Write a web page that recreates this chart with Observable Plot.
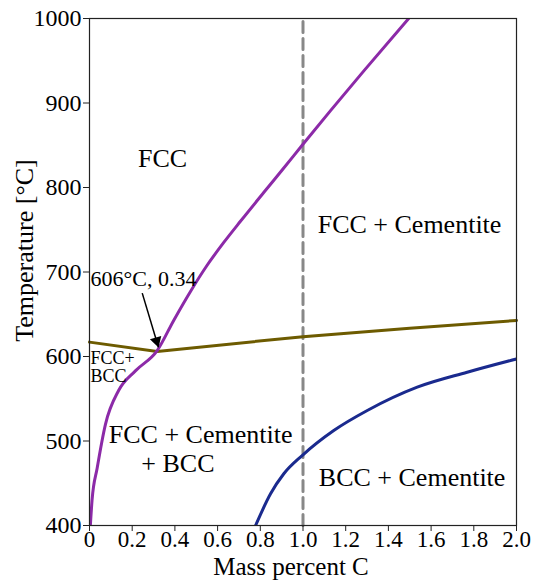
<!DOCTYPE html>
<html>
<head>
<meta charset="utf-8">
<script src="https://cdn.jsdelivr.net/npm/d3@7"></script>
<script src="https://cdn.jsdelivr.net/npm/@observablehq/plot@0.6"></script>
<style>
  html, body { margin: 0; padding: 0; background: white; }
</style>
</head>
<body>
<div id="chart"></div>
<script>
// FCC boundary (purple)
const fccX = [0.004, 0.012, 0.036, 0.075, 0.137, 0.215, 0.317, 0.395, 0.473, 0.551, 0.629, 0.707, 0.816, 0.910, 0.996, 1.129, 1.285, 1.495];
const fccT = [400, 430, 468, 520, 560, 583, 607, 643, 677, 708, 735, 760, 794, 823, 850, 891, 938, 1000];
// Eutectoid line (olive)
const eutX = [0, 0.317, 1.0, 1.5, 2.0];
const eutT = [617, 606, 623.5, 633.5, 642.6];
// BCC + Cementite boundary (blue)
const bccX = [0.778, 0.848, 0.910, 0.996, 1.144, 1.301, 1.535, 1.769, 2.003];
const bccT = [400, 437.5, 461.2, 482.8, 512.4, 536.1, 563.7, 581.4, 597.3];
// Reference composition (dashed)
const refX = [1.0, 1.0];
const refT = [400, 1000];
// Tick values
const xTicks = [0, 0.2, 0.4, 0.6, 0.8, 1.0, 1.2, 1.4, 1.6, 1.8, 2.0];
const yTicks = [400, 500, 600, 700, 800, 900, 1000];
// Region labels (x, T at text baseline)
const regionText = ["FCC", "FCC + Cementite", "BCC + Cementite"];
const regionX = [0.342, 1.499, 1.511];
const regionT = [823.7, 745.6, 447.3];
const lowerText = ["FCC + Cementite\n\u00a0\u00a0\u00a0\u00a0\u00a0+ BCC"];
const lowerX = [0.0904];
const lowerT = [463.9];
const smallText = ["FCC+", "BCC"];
const smallX = [0.005, 0.005];
const smallT = [591.4, 569.6];
const noteText = ["606°C, 0.34"];
const noteX = [0.005];
const noteT = [684];
// Arrow (from label to eutectoid point)
const arrowFrom = [0.247, 675];
const arrowTo = [0.323, 611];

const xLabel = "Mass percent C";
const yLabel = "Temperature [°C]";

const toRows = (xs, ys, ts) => xs.map((x, i) => ({x, y: ys[i], t: ts ? ts[i] : null}));

const font = "'Liberation Serif', 'Times New Roman', serif";

const chart = Plot.plot({
  width: 535,
  height: 585,
  marginLeft: 89,
  marginRight: 19,
  marginTop: 18,
  marginBottom: 60,
  style: {fontFamily: font, fontSize: "24px", background: "white", color: "black", overflow: "visible"},
  x: {domain: [0, 2]},
  y: {domain: [400, 1000]},
  marks: [
    Plot.line(toRows(refX, refT), {x: "x", y: "y", stroke: "#888888", strokeWidth: 3, strokeDasharray: "11,6"}),
    Plot.line(toRows(eutX, eutT), {x: "x", y: "y", stroke: "#6d5b00", strokeWidth: 3}),
    Plot.line(toRows(bccX, bccT), {x: "x", y: "y", stroke: "#1a2a8e", strokeWidth: 3, curve: "monotone-x", clip: true}),
    Plot.line(toRows(fccX, fccT), {x: "x", y: "y", stroke: "#8c2aa8", strokeWidth: 3, curve: "monotone-x", clip: true}),
    Plot.frame({stroke: "#222", strokeWidth: 1.2}),
    Plot.axisX({ticks: xTicks, tickFormat: d => d === 0 ? "0" : d.toFixed(1), tickSize: 6, tickPadding: -1, fontSize: 23, label: null, stroke: "#222"}),
    Plot.axisY({ticks: yTicks, tickFormat: d => String(d), tickSize: 6, tickPadding: 2, fontSize: 24, label: null, stroke: "#222"}),
    Plot.text([xLabel], {frameAnchor: "bottom", textAnchor: "middle", dx: -12, dy: 49, lineAnchor: "bottom", fontSize: 25, fill: "black"}),
    Plot.text([yLabel], {frameAnchor: "middle", textAnchor: "middle", dx: -270, dy: -21.5, rotate: -90, lineAnchor: "bottom", fontSize: 26, fill: "black"}),
    Plot.text(toRows(regionX, regionT, regionText), {x: "x", y: "y", text: "t", lineAnchor: "bottom", fontSize: 26, fill: "black"}),
    Plot.text(toRows(lowerX, lowerT, lowerText), {x: "x", y: "y", text: "t", textAnchor: "start", lineAnchor: "bottom", lineHeight: 1.11, fontSize: 26, fill: "black"}),
    Plot.text(toRows(smallX, smallT, smallText), {x: "x", y: "y", text: "t", textAnchor: "start", lineAnchor: "bottom", fontSize: 18, fill: "black"}),
    Plot.text(toRows(noteX, noteT, noteText), {x: "x", y: "y", text: "t", textAnchor: "start", lineAnchor: "bottom", fontSize: 22, fill: "black"}),
    Plot.link([{x1: arrowFrom[0], y1: arrowFrom[1], x2: arrowTo[0], y2: arrowTo[1]}], {x1: "x1", y1: "y1", x2: "x2", y2: "y2", stroke: "black", strokeWidth: 1.5}),
    Plot.dot([{x: arrowTo[0], y: arrowTo[1]}], {x: "x", y: "y", symbol: "triangle", r: 4.4, rotate: 163, dx: -1.9, dy: -6.3, fill: "black", stroke: "none"})
  ]
});
document.getElementById("chart").appendChild(chart);
</script>
</body>
</html>
